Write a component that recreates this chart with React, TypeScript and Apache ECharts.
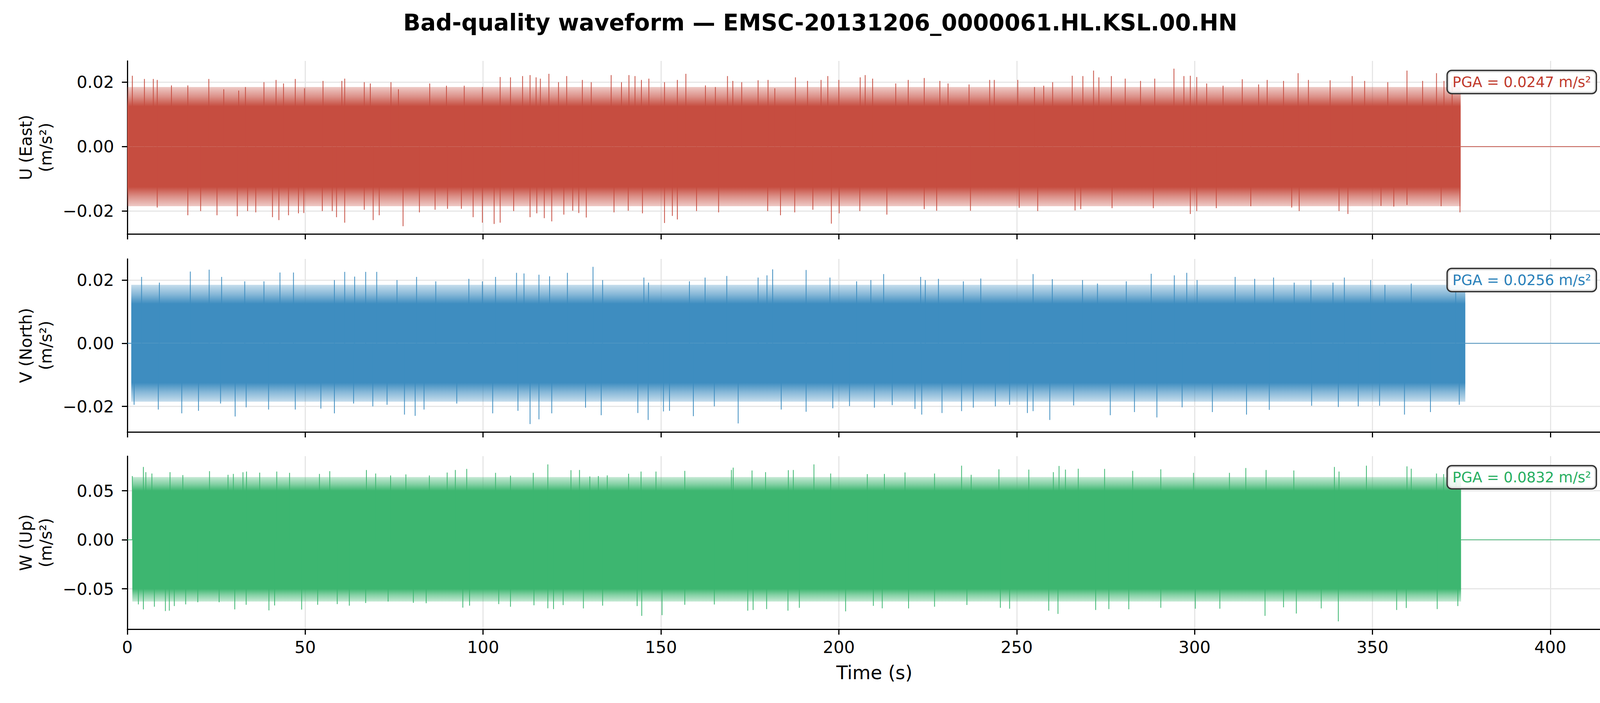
import React, { useEffect, useRef } from "react";
import * as echarts from "echarts";

// ---- data (accelerations in mm/s^2, i.e. 0.001 m/s^2) ----
const X_MAX = 420;
const X_TICKS = [0, 50, 100, 150, 200, 250, 300, 350, 400];

const TITLE = "Bad-quality waveform \u2014 EMSC-20131206_0000061.HL.KSL.00.HN";
const COMPONENTS = ["U (East)", "V (North)", "W (Up)"];
const PGA_TEXT = ["PGA = 0.0247 m/s\u00b2", "PGA = 0.0256 m/s\u00b2", "PGA = 0.0832 m/s\u00b2"];

// record spans (s)
const U_SPAN = [0, 374.8];
const V_SPAN = [1.1, 376.1];
const W_SPAN = [1.4, 374.9];

// solid core level and outer edge of the dense noise band (mm/s^2) [low, high]
const U_CORE = [-12.5, 12.5];
const U_OUTER = [-18.5, 18.5];
const V_CORE = [-12.5, 12.5];
const V_OUTER = [-18.5, 18.5];
const W_CORE = [-50, 50];
const W_OUTER = [-63, 64];

// y-axis ranges (m/s^2) and ticks
const U_RANGE = [-0.0271, 0.0266];
const V_RANGE = [-0.0281, 0.0267];
const W_RANGE = [-0.0912, 0.0853];
const U_TICKS = [-0.02, 0, 0.02];
const V_TICKS = [-0.02, 0, 0.02];
const W_TICKS = [-0.05, 0, 0.05];

// individual peaks standing out of the band: [time s, value mm/s^2]
const U_PEAKS_UP = [
  [1.4, 22], [4.8, 21], [7.3, 21], [8.4, 20.7], [12.4, 19], [17, 19], [22.9, 21], [27.1, 17.8],
  [31.3, 17.4], [33.2, 18.5], [38.4, 20], [41.8, 20.7], [43.9, 19.6], [47.2, 21], [49.8, 18.1],
  [55, 20.4], [60.3, 20.4], [61.1, 21.1], [66.6, 20], [68.3, 19.6], [74.1, 20], [76.2, 17.8],
  [85, 19.6], [89.7, 18.9], [94.7, 18.9], [99.8, 18.5], [104.8, 21.6], [107.7, 21.5], [111.1, 21.9],
  [113.2, 22.2], [114.9, 21.5], [116.1, 21.1], [118.5, 22.6], [121.2, 20], [123.5, 21.9],
  [127.9, 20.7], [130.4, 20], [136, 22.2], [138.9, 20], [141, 22.2], [142.7, 21.9], [144.5, 20.7],
  [146.6, 21.1], [151, 20], [154.6, 20.7], [157, 22.6], [162.5, 19], [165.3, 18.5], [168.7, 21.9],
  [170.2, 20.4], [172.7, 20], [177.3, 20.6], [180.1, 20.7], [182, 18.1], [187.8, 21.5], [191.2, 20.4],
  [195, 20.7], [196.9, 21.9], [200, 20.7], [206, 21.5], [207.4, 22.2], [209.5, 21.1], [216, 19.6],
  [219.5, 20.7], [224, 21.3], [228.4, 20.4], [230.7, 19.6], [236.6, 19.3], [242.4, 20.7],
  [243.7, 20.7], [250.3, 20.7], [255, 18.5], [257.6, 18.9], [260.1, 20], [265.6, 22], [268.6, 21.9],
  [271.6, 23.6], [273.1, 21.5], [276.6, 21.9], [280.5, 21.1], [284.8, 20.4], [288.8, 21.1],
  [294.2, 24.2], [297, 21.9], [298.8, 22], [300.6, 21.6], [303.4, 19.6], [308, 18.9], [313.4, 20.9],
  [318, 19.3], [320.4, 20.7], [325, 20.4], [329.1, 22.8], [332, 20.7], [338.1, 20.6], [344.3, 21.9],
  [347.8, 20.4], [354.3, 20], [359.7, 23.6], [364.1, 20.4], [368, 22.8], [370.1, 20.4], [372.4, 20],
];
const U_PEAKS_DOWN = [
  [8.4, -18.9], [17, -21.3], [20.6, -20], [25.2, -21.3], [30.9, -21.6], [33.8, -20], [36.1, -20.4],
  [40.8, -21.9], [42.6, -22.8], [45.3, -21.3], [48.1, -20.7], [49.6, -20.6], [54.8, -20], [57.6, -20],
  [58.8, -21.9], [61.1, -23.6], [66.6, -19.6], [69.1, -22.8], [70.8, -21.3], [77.5, -24.7],
  [82.1, -20.4], [86.5, -19.6], [90, -19.3], [93.9, -19.3], [97.2, -21.9], [99.8, -23.6],
  [103.1, -24], [104.8, -23.6], [108.6, -20], [113.2, -21.9], [115.1, -20.7], [117.2, -22.2],
  [119.3, -23.2], [122.7, -21.1], [125.2, -19.9], [126.9, -20.6], [129, -22], [136.8, -20.4],
  [140.8, -19.9], [144.8, -20.7], [151, -23.7], [153.2, -21.5], [154.6, -22.6], [160, -20],
  [166.2, -20.4], [180, -20], [183.6, -21.3], [187.6, -20.4], [192.7, -19.6], [197.9, -23.9],
  [200.1, -20.7], [205.9, -20], [213.5, -21.1], [224, -19.4], [227.5, -19.9], [237, -19.9],
  [250.7, -19], [255.9, -20], [266.4, -19.8], [268, -19.4], [276.8, -19.1], [288.4, -19.1],
  [298.8, -20.9], [300.6, -20], [306.1, -19.1], [315.8, -18.5], [327.3, -18.9], [329.4, -20],
  [340.6, -20], [343.1, -20.9], [352.4, -18.4], [356, -18.6], [359.7, -18.1], [369.3, -18.5],
  [374.6, -20.4],
];
const V_PEAKS_UP = [
  [4, 21], [9, 19.2], [17.7, 22.7], [23, 23.3], [26.5, 21], [33, 19.6], [38.4, 19.6], [42.9, 22.4],
  [46.7, 22.4], [58.2, 20], [61.1, 22.6], [63.9, 21.1], [67, 22.6], [70.1, 22.6], [75.8, 20],
  [81.3, 21], [86.7, 19.6], [96, 20.4], [99.8, 19.6], [103.5, 21], [109.4, 22.3], [111.5, 22.1],
  [115.7, 21.7], [118.7, 21.2], [123.7, 22.3], [130.9, 24.2], [133.6, 20], [145.2, 20.8],
  [146.5, 19.2], [158, 19.6], [162.4, 20.8], [168.5, 21.3], [177.3, 20.8], [179.8, 21.5],
  [181.4, 23.4], [190.8, 23.2], [197.5, 20.8], [205, 19.6], [209, 20], [212.6, 21.9], [223, 21],
  [224.3, 20], [228, 20.4], [235, 19.6], [239.9, 20.5], [254.6, 21.9], [260, 20.3], [268.5, 20],
  [272.7, 18.9], [280.8, 19.6], [287.8, 22], [294.3, 21.5], [297.8, 22.3], [300.7, 20], [311.4, 21],
  [316.9, 20.4], [322.2, 20.8], [328, 19.2], [332.7, 20], [338.9, 19.2], [342.1, 20.8], [349.5, 20],
  [353.5, 18.5], [360.9, 18.9], [373.4, 16.6],
];
const V_PEAKS_DOWN = [
  [1.9, -19.5], [8.7, -21], [15.3, -22.2], [20, -21.4], [26.2, -19.1], [30.3, -23.2], [33.4, -20.3],
  [39.7, -21], [47.2, -21], [54.4, -20.7], [58.2, -22.2], [63.6, -19.1], [69, -20], [73, -19.5],
  [77.9, -22.6], [80.9, -23], [83.4, -21], [92.6, -19.1], [102.7, -22.2], [109.8, -21.4],
  [113.2, -25.6], [115.7, -24.1], [119.3, -22.2], [128.8, -20.4], [133.2, -22.8], [143.5, -22.1],
  [146.4, -24.3], [150.7, -21.6], [152.4, -21.4], [159.1, -23.1], [165, -20], [171.7, -25.4],
  [183.8, -21], [190.8, -21.7], [198.3, -20.6], [203, -19.9], [210, -20.4], [215, -19.6],
  [221.4, -20.8], [223.3, -22.6], [229, -22.1], [234.5, -21.5], [237.8, -20.4], [244, -20],
  [248, -19.5], [253, -22.1], [254.6, -21.5], [259.3, -24.3], [266, -19.7], [276.3, -22.8],
  [283.1, -21.8], [289.4, -23.5], [296.5, -20.3], [305, -21.8], [314.6, -22.6], [321, -21.1],
  [332.9, -19.8], [340.4, -20.2], [346, -20], [352, -19.8], [359, -22.6], [366.3, -21.8],
  [374.4, -19.5],
];
const W_PEAKS_UP = [
  [1.4, 65], [4.5, 74.3], [5.2, 69], [6.9, 67.6], [12, 69], [15.6, 66], [23.1, 70], [28.3, 66.3],
  [29.8, 67.2], [32.5, 68.9], [33.5, 69.6], [37.2, 68.5], [42, 69.6], [45.6, 68.3], [54, 67.2],
  [56.9, 70], [67.2, 71.2], [69.8, 67.6], [74, 65.6], [78.3, 66.7], [84.9, 65.6], [89.9, 68.6],
  [92.2, 71.2], [95.4, 72.3], [103.5, 68.3], [107.7, 65.4], [114.1, 68.3], [118.2, 76.9],
  [124.7, 71], [127.1, 71.2], [130, 64.6], [132.4, 65], [134.9, 65.7], [140.9, 67.4], [144.4, 69.6],
  [148.6, 69.6], [156.7, 70.3], [169.8, 71.2], [170.3, 73.6], [175.6, 70.7], [179.4, 69],
  [185.8, 71], [187.2, 71.2], [193, 76.9], [197.7, 67.6], [208, 67], [212.8, 67.2], [218.6, 68.7],
  [226.9, 67.6], [234.5, 75.6], [237.2, 66.3], [245, 71.9], [253.4, 71.6], [260.3, 69],
  [261.9, 75.3], [263.7, 71.6], [267.3, 72.5], [274.7, 72.3], [282.6, 70.3], [290.5, 71.9],
  [299.7, 68.3], [309.8, 68.3], [314.4, 73.2], [320.1, 71.2], [327.9, 70.7], [339.3, 74.3],
  [340.6, 69.6], [348.3, 75.6], [359.7, 74.9], [360.9, 72.5], [368, 67.6], [370, 67], [373.5, 64],
];
const W_PEAKS_DOWN = [
  [3.1, -65.9], [4.5, -71], [7.6, -68.3], [10.7, -72.7], [11.8, -72.3], [13.2, -67.6], [16.4, -65.9],
  [19.8, -63.7], [25.8, -63.7], [30.2, -71], [33.4, -66.3], [39.8, -72], [41.4, -67], [49, -71.2],
  [53.5, -66.3], [59, -65.6], [62.4, -67.2], [67, -64.5], [73.3, -63], [80.4, -64.3], [84, -64.7],
  [94.3, -69.2], [96.2, -67.2], [104.4, -65.6], [107.7, -68.3], [114.3, -66.8], [118.2, -69.9],
  [119.8, -70.7], [122.5, -66.6], [128.2, -70], [133.6, -67.2], [143.3, -67.6], [144.6, -77.6],
  [150.3, -76.9], [156.7, -66.3], [165, -66], [174.4, -72.3], [175.9, -71.6], [179.7, -70.7],
  [185.7, -72.3], [188.9, -69.4], [201.9, -73], [209.7, -67.4], [212.2, -69.9], [219.6, -70],
  [226.9, -68.3], [236, -66.5], [245.4, -69.4], [248, -70.3], [259, -72.3], [261.6, -75.6],
  [272.2, -71.6], [275.9, -70.7], [281.5, -70.9], [290.5, -69.4], [300.2, -70.3], [307.1, -70.3],
  [319.8, -77.6], [325, -68.9], [328.6, -75.2], [335.6, -70], [340.4, -83.2], [356.8, -71.6],
  [359.5, -69.6], [368.2, -70.7], [374, -67.6],
];

// ---- styling ----
const FONT = "'DejaVu Sans', 'Liberation Sans', sans-serif";
const LINE_COLORS = ["#c0392b", "#2980b9", "#27ae60"];
const FILL_RGB = ["198,77,64", "62,141,192", "61,182,112"];

const GRID_LEFT = 326;
const GRID_WIDTH = 3825;
const GRID_TOPS = [156, 663, 1168];
const GRID_H = 443;

const MM = 0.001;

function fmtY(v: number) {
  const s = Math.abs(v).toFixed(2);
  return v < 0 ? "\u2212" + s : s;
}

const PANELS = [
  { up: U_PEAKS_UP, down: U_PEAKS_DOWN, span: U_SPAN, core: U_CORE, outer: U_OUTER, range: U_RANGE, ticks: U_TICKS },
  { up: V_PEAKS_UP, down: V_PEAKS_DOWN, span: V_SPAN, core: V_CORE, outer: V_OUTER, range: V_RANGE, ticks: V_TICKS },
  { up: W_PEAKS_UP, down: W_PEAKS_DOWN, span: W_SPAN, core: W_CORE, outer: W_OUTER, range: W_RANGE, ticks: W_TICKS },
];

function buildOption() {
  const grid: any[] = [];
  const xAxis: any[] = [];
  const yAxis: any[] = [];
  const series: any[] = [];
  const graphic: any[] = [];

  PANELS.forEach((p, i) => {
    grid.push({ left: GRID_LEFT, width: GRID_WIDTH, top: GRID_TOPS[i], height: GRID_H, containLabel: false });
    xAxis.push({
      type: "value",
      gridIndex: i,
      min: 0,
      max: X_MAX,
      axisLine: { show: true, onZero: false, lineStyle: { color: "#000", width: 3 } },
      axisTick: { show: true, inside: false, length: 14, customValues: X_TICKS, lineStyle: { color: "#000", width: 3 } },
      axisLabel: {
        show: i === 2,
        customValues: X_TICKS,
        fontSize: 43,
        fontFamily: FONT,
        color: "#000",
        margin: 24,
      },
      splitLine: { show: true, lineStyle: { color: "#e6e6e6", width: 3 } },
    });
    yAxis.push({
      type: "value",
      gridIndex: i,
      min: p.range[0],
      max: p.range[1],
      axisLine: { show: true, onZero: false, lineStyle: { color: "#000", width: 3 } },
      axisTick: { show: true, inside: false, length: 14, customValues: p.ticks, lineStyle: { color: "#000", width: 3 } },
      axisLabel: {
        customValues: p.ticks,
        formatter: (v: number) => fmtY(v),
        fontSize: 43,
        fontFamily: FONT,
        color: "#000",
        margin: 34,
      },
      splitLine: { show: true, lineStyle: { color: "#e6e6e6", width: 3 } },
    });

    const s0 = p.span[0];
    const s1 = p.span[1];
    const rgb = FILL_RGB[i];
    const solid = `rgb(${rgb})`;
    // dense noise band: solid up to the core level, thinning out towards the outer level
    const band = (outer: number, core: number) => {
      const f = Math.abs((outer - core) / outer);
      const up = outer > 0;
      const stops = up
        ? [
            { offset: 0, color: `rgba(${rgb},0.3)` },
            { offset: f * 0.5, color: `rgba(${rgb},0.62)` },
            { offset: f, color: `rgba(${rgb},1)` },
            { offset: 1, color: `rgba(${rgb},1)` },
          ]
        : [
            { offset: 0, color: `rgba(${rgb},1)` },
            { offset: 1 - f, color: `rgba(${rgb},1)` },
            { offset: 1 - f * 0.5, color: `rgba(${rgb},0.62)` },
            { offset: 1, color: `rgba(${rgb},0.3)` },
          ];
      return {
        type: "line",
        xAxisIndex: i,
        yAxisIndex: i,
        data: [
          [s0, outer * MM],
          [s1, outer * MM],
        ],
        symbol: "none",
        silent: true,
        lineStyle: { width: 0, color: solid },
        areaStyle: { color: new echarts.graphic.LinearGradient(0, 0, 0, 1, stops), opacity: 1 },
        z: 1,
      };
    };
    series.push(band(p.outer[1], p.core[1]));
    series.push(band(p.outer[0], p.core[0]));

    // individual peaks: vertical strokes from the zero line to the peak value
    const peaks = p.up.concat(p.down).map((d) => [d[0], d[1] * MM]);
    series.push({
      type: "custom",
      xAxisIndex: i,
      yAxisIndex: i,
      data: peaks,
      silent: true,
      z: 3,
      encode: { x: 0, y: 1 },
      renderItem: (params: any, api: any) => {
        const a = api.coord([api.value(0), 0]);
        const b = api.coord([api.value(0), api.value(1)]);
        return {
          type: "line",
          shape: { x1: a[0], y1: a[1], x2: b[0], y2: b[1] },
          style: { stroke: solid, lineWidth: 2 },
        };
      },
    });

    // flat (zero) trace outside the record span
    const flat = (data: number[][]) => ({
      type: "line",
      xAxisIndex: i,
      yAxisIndex: i,
      data,
      symbol: "none",
      silent: true,
      lineStyle: { width: 1.8, color: LINE_COLORS[i], opacity: 0.9 },
      z: 3,
    });
    if (s0 > 0) series.push(flat([[0, 0], [s0, 0]]));
    series.push(flat([[s1, 0], [X_MAX, 0]]));

    // y-axis label
    graphic.push({
      type: "text",
      x: 92,
      y: GRID_TOPS[i] + GRID_H / 2,
      rotation: Math.PI / 2,
      style: {
        text: COMPONENTS[i] + "\n(m/s\u00b2)",
        fill: "#000",
        fontSize: 42,
        fontFamily: FONT,
        align: "center",
        verticalAlign: "middle",
        lineHeight: 51,
      },
    });
    // PGA box
    graphic.push({
      type: "text",
      x: 4085,
      y: GRID_TOPS[i] + 54,
      z: 100,
      style: {
        text: PGA_TEXT[i],
        fill: LINE_COLORS[i],
        fontSize: 37,
        fontFamily: FONT,
        align: "right",
        verticalAlign: "middle",
        backgroundColor: "rgba(255,255,255,0.85)",
        borderColor: "#333",
        borderWidth: 3.5,
        borderRadius: 10,
        padding: [10, 12, 9, 12],
      },
    });
  });

  graphic.push({
    type: "text",
    x: 2100,
    y: 58,
    style: {
      text: TITLE,
      fill: "#000",
      fontSize: 58,
      fontWeight: "bold",
      fontFamily: FONT,
      align: "center",
      verticalAlign: "middle",
    },
  });
  graphic.push({
    type: "text",
    x: GRID_LEFT + GRID_WIDTH / 2,
    y: 1722,
    style: {
      text: "Time (s)",
      fill: "#000",
      fontSize: 48,
      fontFamily: FONT,
      align: "center",
      verticalAlign: "middle",
    },
  });

  return {
    animation: false,
    backgroundColor: "#ffffff",
    grid,
    xAxis,
    yAxis,
    series,
    graphic,
  };
}

export default function App() {
  const ref = useRef<HTMLDivElement>(null);
  useEffect(() => {
    if (!ref.current) return;
    const chart = echarts.init(ref.current, null, { renderer: "svg" });
    chart.setOption(buildOption() as any);
    return () => chart.dispose();
  }, []);
  return (
    <div
      ref={ref}
      style={{ position: "absolute", left: 0, top: 0, width: 4200, height: 1800, background: "#fff" }}
    />
  );
}
